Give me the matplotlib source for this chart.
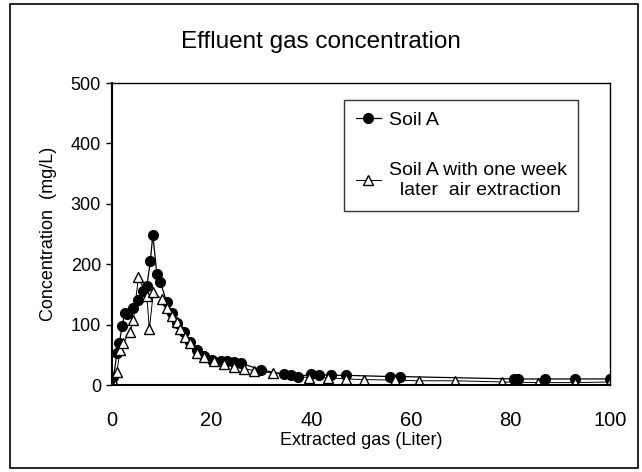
import matplotlib
matplotlib.use("Agg")
from matplotlib import pyplot as plt
from matplotlib.patches import Rectangle

plt.rcParams['font.family'] = ['Liberation Sans', 'DejaVu Sans']

# Soil A
soil_x = [0.3, 1, 1.5, 2, 2.6, 3, 4.3, 5.3, 6.3, 7, 7.7, 8.2, 9, 9.7, 11, 12, 13, 14.4,
          15.7, 17, 18.4, 20, 21.8, 23, 24.5, 25.9, 30, 34.5, 36, 37.4, 40, 41.5, 44,
          47, 55.8, 57.8, 80.8, 81.5, 87, 93, 100]
soil_y = [13, 53, 70, 97, 120, 118, 128, 140, 155, 164, 205, 249, 184, 170, 137, 120, 103,
          87, 72, 58, 48, 42, 40, 39, 38, 36, 25, 18, 16, 14, 18, 17, 16,
          16, 14, 14, 10, 10, 10, 10, 10]

# Soil A with one week later air extraction
week_x = [0.6, 1, 1.6, 2.3, 3.6, 4.3, 5.3, 7, 7.5, 8.3, 10, 11, 12, 13, 13.7, 14.7, 15.7,
          17, 18.4, 20.4, 22.4, 24.4, 26.5, 28.5, 32.3, 39.6, 43.4, 47, 50.7, 56.8,
          61.6, 68.9, 78.4, 85.5, 93, 100]
week_y = [0, 22, 58, 70, 87, 108, 178, 147, 92, 154, 142, 128, 114, 105, 92, 80, 70,
          53, 47, 40, 35, 30, 27, 24, 20, 12, 12, 10, 9, 8,
          7, 7, 5, 4, 4, 5]

fig = plt.figure(figsize=(6.42, 4.72), dpi=100)
ax = fig.add_axes([112 / 642, 87 / 472, 498 / 642, 302 / 472])

ax.plot(soil_x, soil_y, color='black', lw=0.9, marker='o', ms=7,
        mfc='black', mec='black', label='Soil A')
ax.plot(week_x, week_y, color='black', lw=0.7, marker='^', ms=7.5,
        mfc='white', mec='black', mew=1.0,
        label='Soil A with one week\n  later  air extraction')

ax.set_xlim(0, 100)
ax.set_ylim(0, 500)
ax.set_xticks(range(0, 101, 20))
ax.set_yticks(range(0, 501, 100))
ax.tick_params(axis='x', length=0, pad=19, labelsize=14.5)
ax.tick_params(axis='y', length=4, width=1, pad=4, labelsize=13)
for s in ax.spines.values():
    s.set_linewidth(1.0)
ax.spines['left'].set_linewidth(1.5)
ax.spines['bottom'].set_linewidth(1.5)

ax.set_xlabel('Extracted gas (Liter)', fontsize=13, labelpad=1)
ax.set_ylabel('Concentration  (mg/L)', fontsize=13, labelpad=10)
fig.text(0.5, 0.91, 'Effluent gas concentration', ha='center', va='center', fontsize=17.5)

leg = ax.legend(loc='upper left', bbox_to_anchor=(232 / 498, 0.944), borderaxespad=0,
                fontsize=14, frameon=True, fancybox=False, edgecolor='black',
                handlelength=1.3, handletextpad=0.4, labelspacing=1.7, borderpad=0.6)
leg.get_frame().set_linewidth(1.0)

fig.patches.append(Rectangle((10 / 642, 4 / 472), 628 / 642, 464 / 472, transform=fig.transFigure,
                             fill=False, edgecolor='black', lw=1.2))

fig.savefig('out.png', dpi=100)
